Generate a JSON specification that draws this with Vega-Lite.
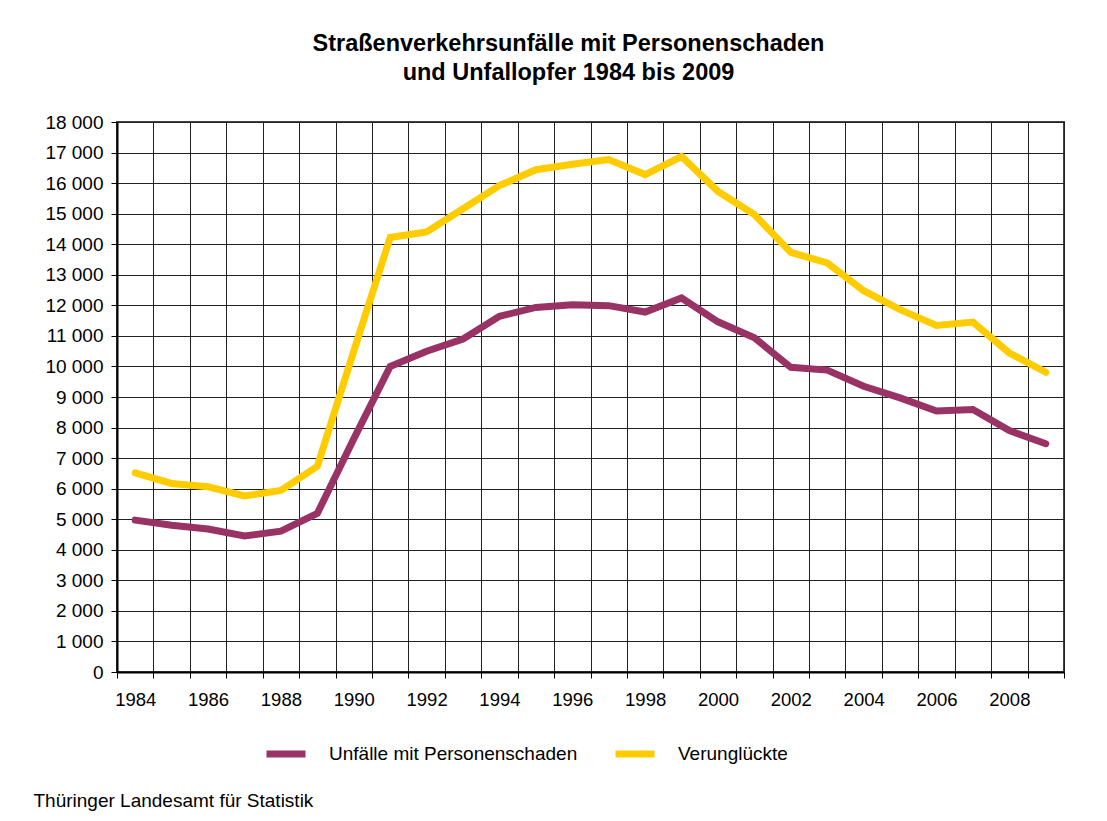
{
  "$schema": "https://vega.github.io/schema/vega-lite/v6.json",
  "autosize": {"type": "none"},
  "width": 947,
  "height": 550,
  "padding": {"left": 117, "top": 122, "right": 43, "bottom": 149},
  "background": "white",
  "title": {
    "text": ["Straßenverkehrsunfälle mit Personenschaden", "und Unfallopfer 1984 bis 2009"],
    "font": "Liberation Sans",
    "fontSize": 23.5,
    "fontWeight": "bold",
    "color": "#000000",
    "lineHeight": 29,
    "anchor": "middle",
    "dx": -22,
    "offset": 29
  },
  "data": {
    "values": [
      {"year": 1984, "series": "Unfälle mit Personenschaden", "value": 4970},
      {"year": 1985, "series": "Unfälle mit Personenschaden", "value": 4800},
      {"year": 1986, "series": "Unfälle mit Personenschaden", "value": 4680},
      {"year": 1987, "series": "Unfälle mit Personenschaden", "value": 4450},
      {"year": 1988, "series": "Unfälle mit Personenschaden", "value": 4610},
      {"year": 1989, "series": "Unfälle mit Personenschaden", "value": 5190},
      {"year": 1990, "series": "Unfälle mit Personenschaden", "value": 7630},
      {"year": 1991, "series": "Unfälle mit Personenschaden", "value": 10000},
      {"year": 1992, "series": "Unfälle mit Personenschaden", "value": 10500},
      {"year": 1993, "series": "Unfälle mit Personenschaden", "value": 10900},
      {"year": 1994, "series": "Unfälle mit Personenschaden", "value": 11640},
      {"year": 1995, "series": "Unfälle mit Personenschaden", "value": 11930},
      {"year": 1996, "series": "Unfälle mit Personenschaden", "value": 12020},
      {"year": 1997, "series": "Unfälle mit Personenschaden", "value": 11990},
      {"year": 1998, "series": "Unfälle mit Personenschaden", "value": 11780},
      {"year": 1999, "series": "Unfälle mit Personenschaden", "value": 12240},
      {"year": 2000, "series": "Unfälle mit Personenschaden", "value": 11460},
      {"year": 2001, "series": "Unfälle mit Personenschaden", "value": 10940},
      {"year": 2002, "series": "Unfälle mit Personenschaden", "value": 9970},
      {"year": 2003, "series": "Unfälle mit Personenschaden", "value": 9880},
      {"year": 2004, "series": "Unfälle mit Personenschaden", "value": 9350},
      {"year": 2005, "series": "Unfälle mit Personenschaden", "value": 8970},
      {"year": 2006, "series": "Unfälle mit Personenschaden", "value": 8540},
      {"year": 2007, "series": "Unfälle mit Personenschaden", "value": 8590},
      {"year": 2008, "series": "Unfälle mit Personenschaden", "value": 7900},
      {"year": 2009, "series": "Unfälle mit Personenschaden", "value": 7470},
      {"year": 1984, "series": "Verunglückte", "value": 6520},
      {"year": 1985, "series": "Verunglückte", "value": 6170},
      {"year": 1986, "series": "Verunglückte", "value": 6060},
      {"year": 1987, "series": "Verunglückte", "value": 5760},
      {"year": 1988, "series": "Verunglückte", "value": 5940},
      {"year": 1989, "series": "Verunglückte", "value": 6730},
      {"year": 1990, "series": "Verunglückte", "value": 10500},
      {"year": 1991, "series": "Verunglückte", "value": 14220},
      {"year": 1992, "series": "Verunglückte", "value": 14400},
      {"year": 1993, "series": "Verunglückte", "value": 15160},
      {"year": 1994, "series": "Verunglückte", "value": 15920},
      {"year": 1995, "series": "Verunglückte", "value": 16440},
      {"year": 1996, "series": "Verunglückte", "value": 16620},
      {"year": 1997, "series": "Verunglückte", "value": 16770},
      {"year": 1998, "series": "Verunglückte", "value": 16280},
      {"year": 1999, "series": "Verunglückte", "value": 16870},
      {"year": 2000, "series": "Verunglückte", "value": 15730},
      {"year": 2001, "series": "Verunglückte", "value": 14970},
      {"year": 2002, "series": "Verunglückte", "value": 13730},
      {"year": 2003, "series": "Verunglückte", "value": 13390},
      {"year": 2004, "series": "Verunglückte", "value": 12480},
      {"year": 2005, "series": "Verunglückte", "value": 11860},
      {"year": 2006, "series": "Verunglückte", "value": 11340},
      {"year": 2007, "series": "Verunglückte", "value": 11450},
      {"year": 2008, "series": "Verunglückte", "value": 10440},
      {"year": 2009, "series": "Verunglückte", "value": 9810}
    ]
  },
  "mark": {"type": "line", "strokeWidth": 7, "strokeCap": "round", "strokeJoin": "miter"},
  "encoding": {
    "x": {
      "field": "year",
      "type": "ordinal",
      "scale": {"type": "band", "paddingInner": 0, "paddingOuter": 0},
      "axis": {
        "title": "Thüringer Landesamt für Statistik",
        "titleFont": "Liberation Sans",
        "titleFontSize": 19,
        "titleFontWeight": "normal",
        "titleColor": "#000000",
        "titleAlign": "left",
        "titleBaseline": "middle",
        "titleAnchor": "start",
        "titleX": -84,
        "titleY": 128,
        "labelAngle": 0,
        "labelExpr": "datum.value % 2 == 0 ? datum.label : ''",
        "labelFont": "Liberation Sans",
        "labelFontSize": 18.5,
        "labelColor": "#000000",
        "labelPadding": 12,
        "labelBaseline": "top",
        "tickBand": "extent",
        "tickSize": 6,
        "tickColor": "#000000",
        "grid": true,
        "gridColor": "#222222",
        "gridWidth": 1,
        "domainColor": "#000000",
        "domainWidth": 2
      }
    },
    "y": {
      "field": "value",
      "type": "quantitative",
      "scale": {"domain": [0, 18000], "nice": false},
      "axis": {
        "title": null,
        "values": [0, 1000, 2000, 3000, 4000, 5000, 6000, 7000, 8000, 9000, 10000, 11000, 12000, 13000, 14000, 15000, 16000, 17000, 18000],
        "labelExpr": "replace(format(datum.value, ','), ',', ' ')",
        "labelFont": "Liberation Sans",
        "labelFontSize": 19,
        "labelColor": "#000000",
        "labelPadding": 8,
        "tickSize": 6,
        "tickColor": "#000000",
        "grid": true,
        "gridColor": "#222222",
        "gridWidth": 1,
        "domainColor": "#000000",
        "domainWidth": 2
      }
    },
    "color": {
      "field": "series",
      "type": "nominal",
      "scale": {"domain": ["Unfälle mit Personenschaden", "Verunglückte"], "range": ["#993366", "#FFCC00"]},
      "legend": {
        "title": null,
        "orient": "none",
        "direction": "horizontal",
        "legendX": 146,
        "legendY": 609,
        "symbolType": "stroke",
        "symbolStrokeWidth": 7,
        "symbolSize": 1521,
        "labelFont": "Liberation Sans",
        "labelFontSize": 19,
        "labelColor": "#000000",
        "labelLimit": 500,
        "labelOffset": 20,
        "columnPadding": 23
      }
    }
  },
  "config": {
    "view": {"stroke": "#444444", "strokeWidth": 2}
  }
}
